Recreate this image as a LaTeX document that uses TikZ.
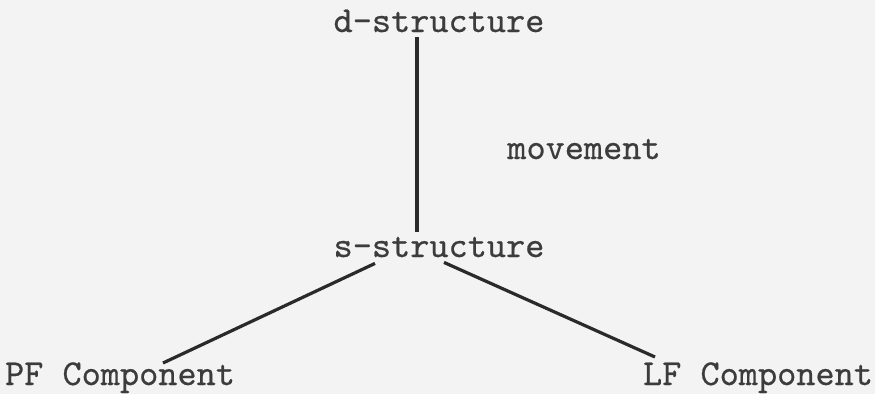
\documentclass[tikz,border=0pt]{standalone}
\usepackage{fontspec}
\newfontfamily\twfont{lmmono10-regular.otf}[FakeBold=0.5]
\definecolor{bgc}{HTML}{F3F3F3}
\definecolor{txt}{HTML}{3C3C3C}
\definecolor{ln}{HTML}{2A2A2A}
\begin{document}
\begin{tikzpicture}[x=1pt,y=-1pt,
  lbl/.style={inner sep=0pt,anchor=base,text=txt,font=\twfont\fontsize{36.5}{40}\selectfont},
  conn/.style={draw=ln,line width=3.2pt}]
\fill[bgc] (0,0) rectangle (875,394);
\useasboundingbox (0,0) rectangle (875,394);
\node[lbl] (d) at (439,32) {d-structure};
\node[lbl] (s) at (439,257) {s-structure};
\node[lbl] (m) at (584,159) {movement};
\node[lbl] (pf) at (120,385) {PF Component};
\node[lbl] (lf) at (758,385) {LF Component};
\draw[conn] ([xshift=-22pt,yshift=-5pt]d.south) -- ([xshift=-22pt]d.south |- 0,232);
\draw[conn] ([xshift=-64pt,yshift=-6pt]s.south) -- ([xshift=43pt]pf.north |- 0,363);
\draw[conn] ([xshift=5pt,yshift=-5pt]s.south) -- ([xshift=-103pt]lf.north |- 0,357);
\end{tikzpicture}
\end{document}
